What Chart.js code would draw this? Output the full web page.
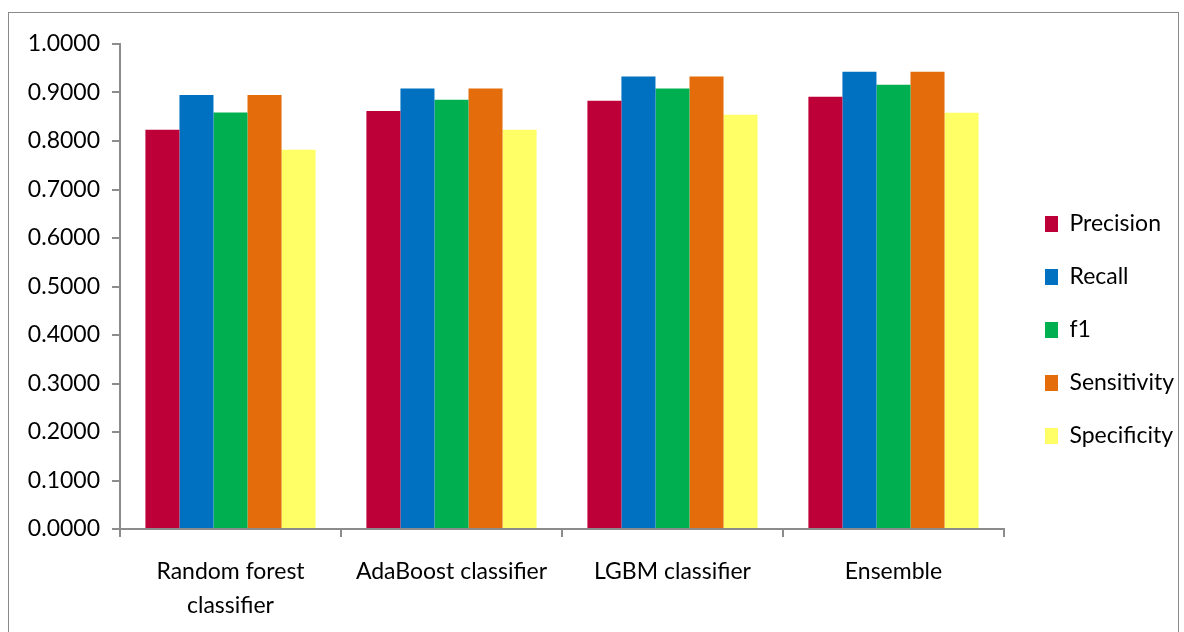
<!DOCTYPE html>
<html>
<head>
<meta charset="utf-8">
<script src="https://cdn.jsdelivr.net/npm/chart.js@4/dist/chart.umd.min.js"></script>
<style>
  html, body { margin: 0; padding: 0; background: #fff; overflow: hidden; }
  #frame { position: absolute; left: 8px; top: 12px; width: 1171px; height: 700px; border: 1px solid #8a8a8a; box-sizing: border-box; }
  #wrap { position: absolute; left: 0; top: 0; width: 1184px; height: 632px; }
</style>
</head>
<body>
<div id="frame"></div>
<div id="wrap"><canvas id="c" width="1184" height="632"></canvas></div>
<script>
// Classifier comparison: five metrics per model
const categories = [["Random forest", "classifier"], "AdaBoost classifier", "LGBM classifier", "Ensemble"];
const precision   = [0.823, 0.862, 0.883, 0.891];
const recall      = [0.895, 0.908, 0.933, 0.943];
const f1          = [0.859, 0.885, 0.908, 0.916];
const sensitivity = [0.895, 0.908, 0.933, 0.943];
const specificity = [0.782, 0.823, 0.854, 0.858];
const seriesNames = ["Precision", "Recall", "f1", "Sensitivity", "Specificity"];
const seriesColors = ["#BE0039", "#0070C0", "#00B050", "#E46C0A", "#FFFF66"];

const seriesValues = [precision, recall, f1, sensitivity, specificity];
const FONT = "Lato, 'Open Sans', sans-serif";
const axisColor = "#8c8c8c";

// Leave a wider gutter between the plot and the legend, and nudge the legend block.
const legendGutter = {
  id: "legendGutter",
  beforeLayout(chart) {
    const lg = chart.legend;
    if (lg && !lg._gutterWrapped) {
      const fit = lg.fit.bind(lg);
      lg.fit = function () { fit(); this.width += 11; };
      lg._gutterWrapped = true;
    }
  },
  afterLayout(chart) {
    const lg = chart.legend;
    if (lg) { lg.left += 11; lg.top -= 8; lg.bottom -= 8; }
  }
};

new Chart(document.getElementById("c"), {
  type: "bar",
  data: {
    labels: categories,
    datasets: seriesValues.map((vals, i) => ({
      label: seriesNames[i],
      data: vals,
      backgroundColor: seriesColors[i],
      borderWidth: 0,
      categoryPercentage: 0.77,
      barPercentage: 1.0
    }))
  },
  plugins: [legendGutter],
  options: {
    responsive: false,
    animation: false,
    devicePixelRatio: 1,
    layout: { padding: { left: 0, top: 44, right: 0, bottom: 0 } },
    plugins: {
      tooltip: { enabled: false },
      legend: {
        position: "right",
        align: "center",
        labels: {
          font: { family: FONT, size: 23 },
          color: "#000",
          boxWidth: 13,
          boxHeight: 16,
          padding: 30
        }
      }
    },
    scales: {
      x: {
        grid: { display: true, drawOnChartArea: false, drawTicks: true, tickLength: 8, color: axisColor, lineWidth: 2, offset: true },
        border: { display: true, color: axisColor, width: 2 },
        ticks: { font: { family: FONT, size: 23, lineHeight: 1.5 }, color: "#000", maxRotation: 0, autoSkip: false, padding: 17 },
        afterFit: s => { s.height = 103; }
      },
      y: {
        min: 0, max: 1,
        grid: { display: true, drawOnChartArea: false, drawTicks: true, tickLength: 8, color: axisColor, lineWidth: 2 },
        border: { display: true, color: axisColor, width: 2 },
        ticks: { stepSize: 0.1, font: { family: FONT, size: 23 }, color: "#000", padding: 12,
                 callback: v => Number(v).toFixed(4) },
        afterFit: s => { s.width = 120; }
      }
    }
  }
});
</script>
</body>
</html>
